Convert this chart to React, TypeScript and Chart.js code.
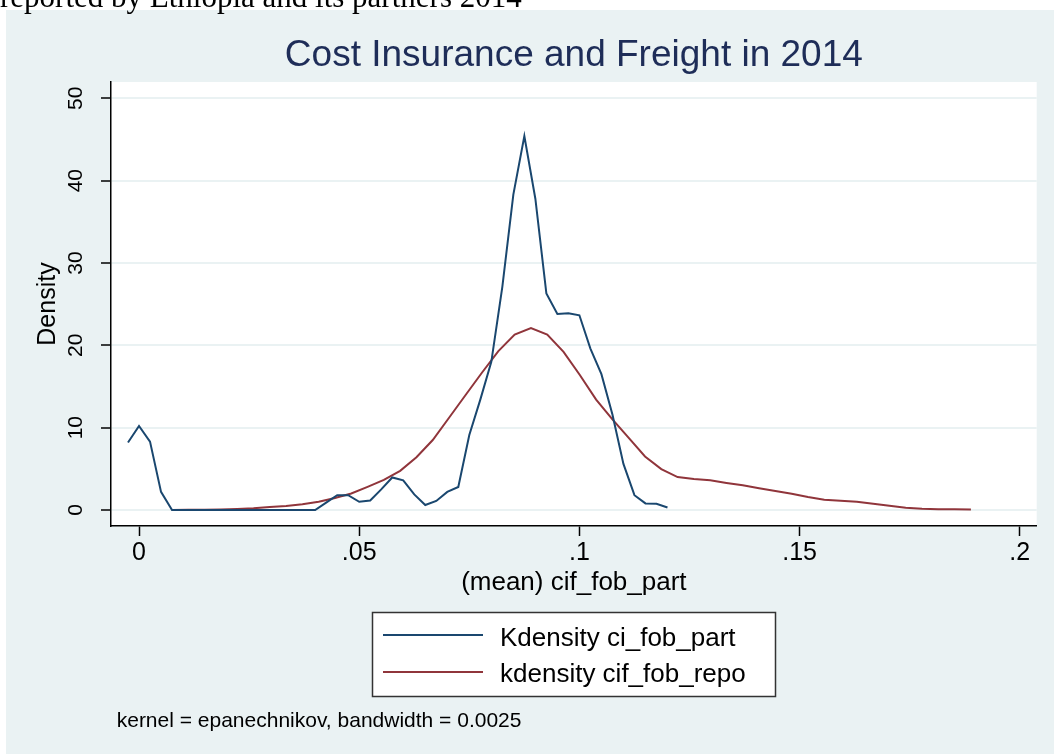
import React, { useEffect, useRef } from "react";
import { Chart, registerables } from "chart.js";

Chart.register(...registerables);

const W = 1054;
const H = 754;

const headerText = "reported by Ethiopia and its partners 2014";
const titleText = "Cost Insurance and Freight in 2014";
const xAxisTitle = "(mean) cif_fob_part";
const yAxisTitle = "Density";
const noteText = "kernel = epanechnikov, bandwidth = 0.0025";
const seriesNames = ["Kdensity ci_fob_part", "kdensity cif_fob_repo"];
const seriesColors = ["#1a476f", "#90353b"];

const partX = [
  -0.0025, 0, 0.0025, 0.005, 0.0075, 0.01, 0.0125, 0.015, 0.0175, 0.02,
  0.0225, 0.025, 0.0275, 0.03, 0.0325, 0.035, 0.0375, 0.04, 0.0425, 0.045,
  0.0475, 0.05, 0.0525, 0.055, 0.0575, 0.06, 0.0625, 0.065, 0.0675, 0.07,
  0.0725, 0.075, 0.0775, 0.08, 0.0825, 0.085, 0.0875, 0.09, 0.0925, 0.095,
  0.0975, 0.1, 0.1025, 0.105, 0.1075, 0.11, 0.1125, 0.115, 0.1175, 0.12,
];
const partY = [
  8.2, 10.2, 8.3, 2.2, 0, 0, 0, 0, 0, 0,
  0, 0, 0, 0, 0, 0, 0, 0, 0.9, 1.8,
  1.8, 1.0, 1.15, 2.5, 3.95, 3.6, 1.9, 0.6, 1.1, 2.2,
  2.8, 9.1, 13.4, 18.0, 27.1, 38.3, 45.4, 37.8, 26.3, 23.8,
  23.9, 23.65, 19.6, 16.5, 11.6, 5.6, 1.8, 0.8, 0.75, 0.3,
];

const repoX = [
  0.0075, 0.0112, 0.0149, 0.0186, 0.0223, 0.026, 0.0297, 0.0334, 0.0371, 0.0408,
  0.0445, 0.0482, 0.0519, 0.0556, 0.0593, 0.063, 0.0667, 0.0704, 0.0742, 0.0779,
  0.0816, 0.0853, 0.089, 0.0927, 0.0964, 0.1001, 0.1038, 0.1075, 0.1112, 0.1149,
  0.1186, 0.1223, 0.126, 0.1297, 0.1334, 0.1371, 0.1408, 0.1445, 0.1482, 0.1519,
  0.1556, 0.1593, 0.163, 0.1667, 0.1704, 0.1741, 0.1778, 0.1815, 0.1852, 0.1889,
];
const repoY = [
  0, 0.02, 0.04, 0.07, 0.12, 0.2, 0.35, 0.5, 0.7, 1.0,
  1.45, 2.0, 2.8, 3.65, 4.75, 6.4, 8.5, 11.2, 14.0, 16.7,
  19.3, 21.3, 22.1, 21.3, 19.2, 16.4, 13.4, 11.0, 8.75, 6.5,
  4.96, 4.0, 3.76, 3.6, 3.28, 3.0, 2.63, 2.3, 1.98, 1.58,
  1.25, 1.11, 1.01, 0.77, 0.53, 0.28, 0.16, 0.1, 0.08, 0.05,
];

const xTicks = [0, 0.05, 0.1, 0.15, 0.2];
const xTickLabels = ["0", ".05", ".1", ".15", ".2"];
const yTicks = [0, 10, 20, 30, 40, 50];
const yTickLabels = ["0", "10", "20", "30", "40", "50"];

const SANS = "'Liberation Sans', Arial, Helvetica, sans-serif";
const PANEL = "#eaf2f3";
const TITLE_COLOR = "#1e2d58";

const decorPlugin = {
  id: "decor",
  beforeDraw(chart: any) {
    const ctx = chart.ctx;
    const a = chart.chartArea;
    ctx.save();
    ctx.fillStyle = "#ffffff";
    ctx.fillRect(0, 0, W, H);
    ctx.fillStyle = PANEL;
    ctx.fillRect(6, 10, W - 6, H - 10);
    ctx.fillStyle = "#000000";
    ctx.font = "31px 'Liberation Serif', 'Times New Roman', serif";
    ctx.textBaseline = "alphabetic";
    ctx.textAlign = "left";
    ctx.fillText(headerText, 0, 7);
    ctx.fillStyle = "#ffffff";
    ctx.fillRect(a.left, a.top, a.right - a.left, a.bottom - a.top);
    ctx.restore();
  },
  afterDraw(chart: any) {
    const ctx = chart.ctx;
    ctx.save();
    // legend box
    const bx = 372.5, by = 612.5, bw = 403, bh = 84;
    ctx.fillStyle = "#ffffff";
    ctx.fillRect(bx, by, bw, bh);
    ctx.strokeStyle = "#333333";
    ctx.lineWidth = 1.5;
    ctx.strokeRect(bx, by, bw, bh);
    const rows = [635, 672];
    const bases = [645.7, 682.3];
    chart.data.datasets.forEach((ds: any, i: number) => {
      ctx.strokeStyle = ds.borderColor;
      ctx.lineWidth = 2;
      ctx.beginPath();
      ctx.moveTo(383, rows[i]);
      ctx.lineTo(483, rows[i]);
      ctx.stroke();
      ctx.fillStyle = "#000000";
      ctx.font = `26px ${SANS}`;
      ctx.textBaseline = "alphabetic";
      ctx.textAlign = "left";
      ctx.fillText(ds.label, 500, bases[i]);
    });
    // note
    ctx.fillStyle = "#000000";
    ctx.font = `21px ${SANS}`;
    ctx.textAlign = "left";
    ctx.textBaseline = "alphabetic";
    ctx.fillText(noteText, 116.7, 726.7);
    ctx.restore();
  },
};

export default function App() {
  const ref = useRef<HTMLCanvasElement | null>(null);

  useEffect(() => {
    if (!ref.current) return;
    Chart.defaults.font.family = SANS;
    const chart = new Chart(ref.current, {
      type: "line",
      data: {
        datasets: [
          {
            label: seriesNames[0],
            data: partX.map((x, i) => ({ x, y: partY[i] })),
            borderColor: seriesColors[0],
            borderWidth: 2,
            pointRadius: 0,
            tension: 0,
            fill: false,
          },
          {
            label: seriesNames[1],
            data: repoX.map((x, i) => ({ x, y: repoY[i] })),
            borderColor: seriesColors[1],
            borderWidth: 2,
            pointRadius: 0,
            tension: 0,
            fill: false,
          },
        ],
      },
      options: {
        animation: false,
        responsive: false,
        maintainAspectRatio: false,
        devicePixelRatio: 1,
        layout: { padding: { left: 0, right: 17.3, top: 33.8, bottom: 148 } },
        plugins: {
          legend: { display: false },
          tooltip: { enabled: false },
          title: {
            display: true,
            fullSize: false,
            text: titleText,
            color: TITLE_COLOR,
            font: { family: SANS, size: 37, weight: "normal" },
            padding: { top: 0, bottom: 3.8 },
          },
        },
        scales: {
          x: {
            type: "linear",
            min: -0.00636,
            max: 0.20384,
            afterBuildTicks: (s: any) => {
              s.ticks = xTicks.map((v) => ({ value: v }));
            },
            afterFit: (s: any) => {
              s.height = 80;
            },
            ticks: {
              autoSkip: false,
              maxRotation: 0,
              minRotation: 0,
              padding: 2.6,
              color: "#000000",
              font: { family: SANS, size: 25 },
              callback: (_v: any, i: number) => xTickLabels[i],
            },
            grid: {
              drawOnChartArea: false,
              tickLength: 10,
              tickColor: "#000000",
              tickWidth: 1.5,
            },
            border: { color: "#000000", width: 1.5 },
            title: {
              display: true,
              text: xAxisTitle,
              color: "#000000",
              font: { family: SANS, size: 26 },
              padding: { top: 0, bottom: 7.7 },
            },
          },
          y: {
            type: "linear",
            min: -1.943,
            max: 51.98,
            afterBuildTicks: (s: any) => {
              s.ticks = yTicks.map((v) => ({ value: v }));
            },
            afterFit: (s: any) => {
              s.width = 111;
            },
            ticks: {
              autoSkip: false,
              minRotation: 90,
              maxRotation: 90,
              crossAlign: "center",
              padding: 12.9,
              color: "#000000",
              font: { family: SANS, size: 21 },
              callback: (_v: any, i: number) => yTickLabels[i],
            },
            grid: {
              color: PANEL,
              lineWidth: 2,
              tickLength: 10,
              tickColor: "#000000",
              tickWidth: 1.5,
            },
            border: { color: "#000000", width: 1.5 },
            title: {
              display: true,
              text: yAxisTitle,
              color: "#000000",
              font: { family: SANS, size: 25 },
              padding: { top: 33.5, bottom: 0 },
            },
          },
        },
      },
      plugins: [decorPlugin],
    } as any);
    return () => chart.destroy();
  }, []);

  return (
    <div style={{ position: "absolute", left: 0, top: 0, width: W, height: H }}>
      <canvas ref={ref} width={W} height={H} style={{ width: W, height: H, display: "block" }} />
    </div>
  );
}
